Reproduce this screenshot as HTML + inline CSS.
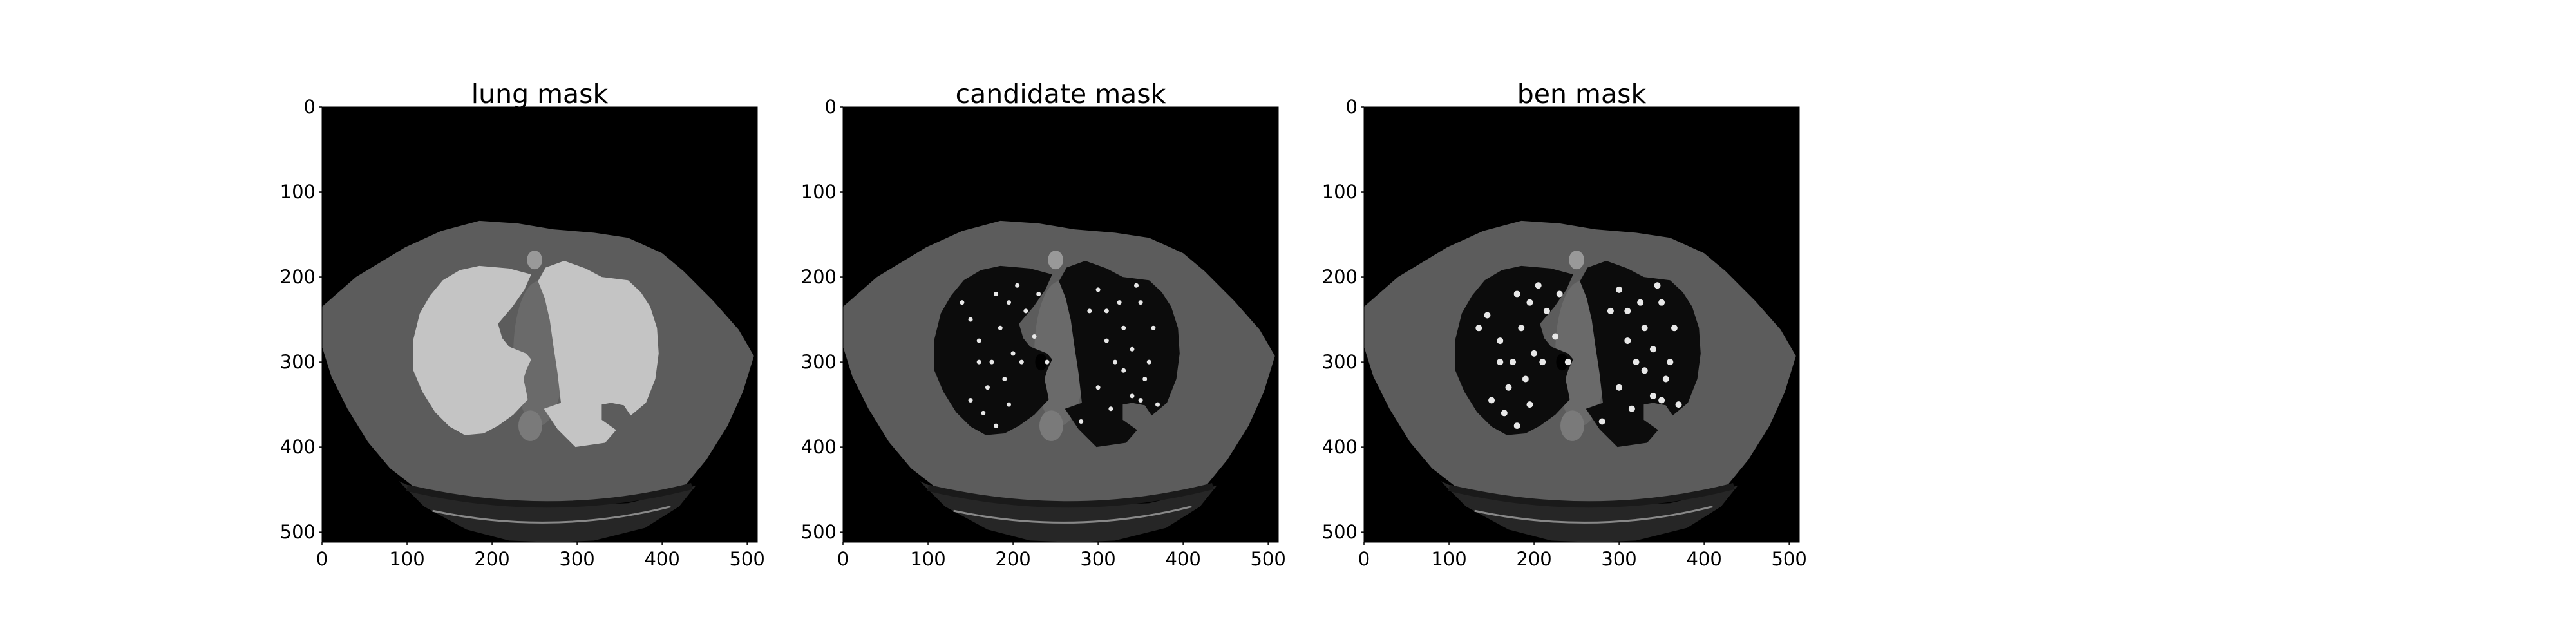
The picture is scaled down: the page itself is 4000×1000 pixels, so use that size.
<!DOCTYPE html>
<html><head><meta charset="utf-8"><style>
html,body{margin:0;padding:0;background:#fff;}
svg{display:block;}
text{font-family:"DejaVu Sans","Liberation Sans",sans-serif;fill:#000;}
</style></head>
<body>
<svg id="fig" width="4000" height="1000" viewBox="0 0 4000 1000" xmlns="http://www.w3.org/2000/svg"></svg>
<script>
const panelTitles = ["lung mask", "candidate mask", "ben mask"];
const xTicks = [0, 100, 200, 300, 400, 500];
const yTicks = [0, 100, 200, 300, 400, 500];
const imgSize = 512;
const bodyOutline = [[0,235],[40,200],[98,165],[140,146],[185,134],[230,137],[272,144],[320,148],[360,154],[400,172],[425,193],[460,228],[490,262],[508,293],[495,335],[477,375],[452,415],[425,448],[395,458],[360,463],[315,466],[272,467],[230,466],[185,463],[145,456],[107,446],[80,425],[54,394],[30,355],[11,317],[0,282]];
const lowerArc = [[90,440],[130,458],[185,466],[272,470],[360,466],[420,452],[440,445],[420,470],[380,495],[320,510],[272,512],[220,510],[170,497],[120,470]];
const leftLung = [[185,187],[220,190],[246,197],[238,215],[224,235],[207,255],[212,272],[220,282],[240,290],[246,297],[240,310],[237,320],[240,334],[242,344],[225,362],[207,375],[190,384],[168,386],[150,376],[133,359],[118,335],[107,309],[107,275],[115,243],[127,222],[142,204],[162,192]];
const rightLung = [[285,181],[310,190],[329,200],[360,204],[375,218],[386,235],[394,260],[396,290],[392,320],[381,348],[363,363],[355,351],[340,348],[329,350],[329,368],[346,380],[333,395],[298,400],[277,379],[261,355],[281,348],[277,313],[272,280],[268,251],[262,225],[254,205],[263,189]];
const candDotsX = [140,150,160,175,190,205,215,170,185,200,150,165,180,195,210,225,180,160,195,300,310,320,330,340,350,355,365,300,315,340,360,290,330,345,370,280,310,325,350,240,230];
const candDotsY = [230,250,275,300,320,210,240,330,260,290,345,360,220,350,300,270,375,300,230,215,240,300,260,285,230,320,260,330,355,340,300,240,310,210,350,370,275,230,345,300,220];
const benDotsX = [145,160,175,190,205,215,170,185,200,150,165,180,195,210,225,180,160,195,300,310,320,330,340,350,355,365,300,315,340,360,290,330,345,370,280,310,325,350,240,230,135];
const benDotsY = [245,275,300,320,210,240,330,260,290,345,360,220,350,300,270,375,300,230,215,240,300,260,285,230,320,260,330,355,340,300,240,310,210,350,370,275,230,345,300,220,260];

const NS = "http://www.w3.org/2000/svg";
const svg = document.getElementById('fig');
const AX_LEFT = [500, 1309, 2118];
const AX_TOP = 166, AX_W = 676, AX_H = 676;
function mk(tag, attrs, parent){ const e=document.createElementNS(NS,tag); for(const k in attrs) e.setAttribute(k,attrs[k]); (parent||svg).appendChild(e); return e; }
function sx(i,v){ return AX_LEFT[i] + v/imgSize*AX_W; }
function sy(v){ return AX_TOP + v/imgSize*AX_H; }
function pts(i, arr){ return arr.map(p=>sx(i,p[0]).toFixed(1)+","+sy(p[1]).toFixed(1)).join(" "); }

for(let i=0;i<3;i++){
  const g = mk('g',{});
  
  
  const bg = mk('rect',{x:AX_LEFT[i],y:AX_TOP,width:AX_W,height:AX_H,fill:'#000'},g);
  
  
  const arc = mk('polygon',{points:pts(i,lowerArc),fill:'#262626'},g);
  
  
  const body = mk('polygon',{points:pts(i,bodyOutline),fill:'#5c5c5c'},g);
  
  
  const tb = mk('path',{d:`M${sx(i,100)},${sy(448)} Q${sx(i,270)},${sy(488)} ${sx(i,435)},${sy(446)}`,stroke:'#1a1a1a','stroke-width':10,fill:'none'},g);
  
  
  const tl = mk('path',{d:`M${sx(i,130)},${sy(475)} Q${sx(i,270)},${sy(505)} ${sx(i,410)},${sy(470)}`,stroke:'#888','stroke-width':3,fill:'none'},g);
  
  
  const med = mk('ellipse',{cx:sx(i,255),cy:sy(290),rx:30/imgSize*AX_W,ry:85/imgSize*AX_H,fill:'#6a6a6a'},g);
  
  
  const lungFill = i===0 ? '#c4c4c4' : '#0c0c0c';
  const ll = mk('polygon',{points:pts(i,leftLung),fill:lungFill},g);
  
  
  const rl = mk('polygon',{points:pts(i,rightLung),fill:lungFill},g);
  
  
  const st = mk('ellipse',{cx:sx(i,250),cy:sy(180),rx:9/imgSize*AX_W,ry:11/imgSize*AX_H,fill:'#999'},g);
  
  
  const sp = mk('ellipse',{cx:sx(i,245),cy:sy(375),rx:14/imgSize*AX_W,ry:18/imgSize*AX_H,fill:'#7a7a7a'},g);
  
  
  if(i>0){
    const tr = mk('ellipse',{cx:sx(i,233),cy:sy(300),rx:7/imgSize*AX_W,ry:10/imgSize*AX_H,fill:'#000'},g);
    
    
    const dx = i===1?candDotsX:benDotsX, dy = i===1?candDotsY:benDotsY;
    for(let k=0;k<dx.length;k++){
      const d = mk('circle',{cx:sx(i,dx[k]),cy:sy(dy[k]),r:i===1?3.5:5,fill:'#e8e8e8'},g);
      
      
    }
  }
  const fr = mk('rect',{x:AX_LEFT[i],y:AX_TOP,width:AX_W,height:AX_H,fill:'none',stroke:'#000','stroke-width':1},g);
  
  
  const t = mk('text',{x:AX_LEFT[i]+AX_W/2,y:160,'font-size':41,'text-anchor':'middle'},g);
  t.textContent = panelTitles[i];
  
  
  for(const v of xTicks){
    const x = sx(i,v);
    const tk = mk('line',{x1:x,x2:x,y1:AX_TOP+AX_H,y2:AX_TOP+AX_H+5,stroke:'#000','stroke-width':1.5},g);
    
    
    const lb = mk('text',{x:x,y:AX_TOP+AX_H+36,'font-size':29,'text-anchor':'middle'},g);
    lb.textContent = v;
    
    
  }
  for(const v of yTicks){
    const y = sy(v);
    const tk = mk('line',{x1:AX_LEFT[i]-5,x2:AX_LEFT[i],y1:y,y2:y,stroke:'#000','stroke-width':1.5},g);
    
    
    const lb = mk('text',{x:AX_LEFT[i]-10,y:y+10,'font-size':29,'text-anchor':'end'},g);
    lb.textContent = v;
    
    
  }
}
</script>
</body></html>
